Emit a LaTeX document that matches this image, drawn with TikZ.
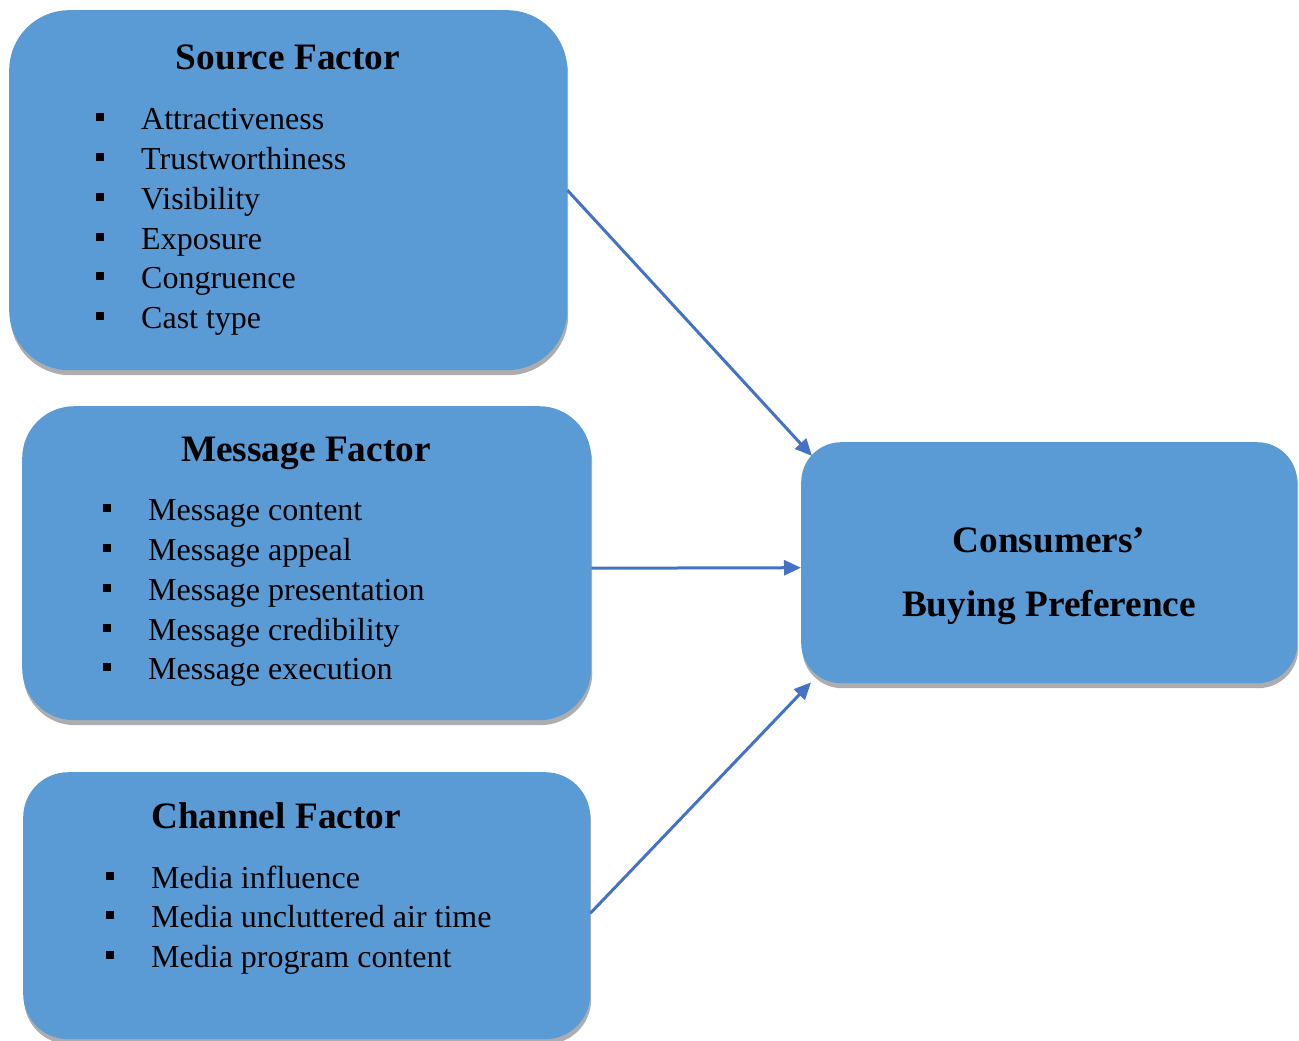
\documentclass[tikz,border=0pt]{standalone}
\usepackage{fontspec}
\setmainfont{Liberation Serif}
\usetikzlibrary{arrows.meta,shadows,calc}
\definecolor{boxblue}{RGB}{91,155,213}
\definecolor{arrowblue}{RGB}{68,114,196}
\definecolor{shadowgrey}{RGB}{173,173,173}

% bullet square plus item text: name, bullet x, text x, baseline y, text
\newcommand\blitem[5]{%
  \node[bul] (#1b) at (#2,#4-12) {};
  \node[item] (#1) at (#3,#4) {#5};}

\begin{document}
\begin{tikzpicture}[x=1pt,y=-1pt,
  factor/.style={fill=boxblue, draw=none, inner sep=0pt, anchor=north west,
    drop shadow={shadow xshift=1pt, shadow yshift=-5pt, fill=shadowgrey, opacity=1}},
  title/.style={font=\fontsize{37.3}{44}\selectfont\bfseries, inner sep=0pt, anchor=base},
  item/.style={font=\fontsize{32}{38}\selectfont, inner sep=0pt, anchor=base west},
  bul/.style={fill=black, minimum size=7.5pt, inner sep=0pt},
  link/.style={draw=arrowblue, line width=3pt, -{Triangle[length=17pt,width=15pt]}}]

\useasboundingbox (0,0) rectangle (1299,1041);

% factor boxes
\node[factor, minimum width=558pt, minimum height=360pt, rounded corners=60pt] (src) at (9,10) {};
\node[factor, minimum width=569pt, minimum height=314pt, rounded corners=52pt] (msg) at (22,406) {};
\node[factor, minimum width=567pt, minimum height=267pt, rounded corners=45pt] (chn) at (23,772) {};
\node[factor, minimum width=496pt, minimum height=241pt, rounded corners=40pt] (cons) at (801,442) {};

% source factor
\node[title] (srct) at (288,70) {Source Factor};
\blitem{s1}{100}{141}{129}{Attractiveness}
\blitem{s2}{100}{141}{169}{Trustworthiness}
\blitem{s3}{100}{141}{209}{Visibility}
\blitem{s4}{100}{141}{249}{Exposure}
\blitem{s5}{100}{141}{288}{Congruence}
\blitem{s6}{100}{141}{328}{Cast type}

% message factor
\node[title] (msgt) at (306,461) {Message Factor};
\blitem{m1}{107}{148}{520}{Message content}
\blitem{m2}{107}{148}{560}{Message appeal}
\blitem{m3}{107}{148}{600}{Message presentation}
\blitem{m4}{107}{148}{640}{Message credibility}
\blitem{m5}{107}{148}{679}{Message execution}

% channel factor
\node[title] (chnt) at (276,828) {Channel Factor};
\blitem{c1}{110}{151}{888}{Media influence}
\blitem{c2}{110}{151}{927}{Media uncluttered air time}
\blitem{c3}{110}{151}{967}{Media program content}

% outcome
\node[title] (cons1) at (1049,552) {Consumers’};
\node[title] (cons2) at (1049,616) {Buying Preference};

% connectors
\draw[link] (src.east) -- ($(cons.north west)+(11,14)$);
\draw[link] ([yshift=-5pt]msg.east) -- ([yshift=-5pt]cons.west);
\draw[link] ([yshift=-7.5pt]chn.east) -- ($(cons.south west)+(10,-1)$);
\end{tikzpicture}
\end{document}
